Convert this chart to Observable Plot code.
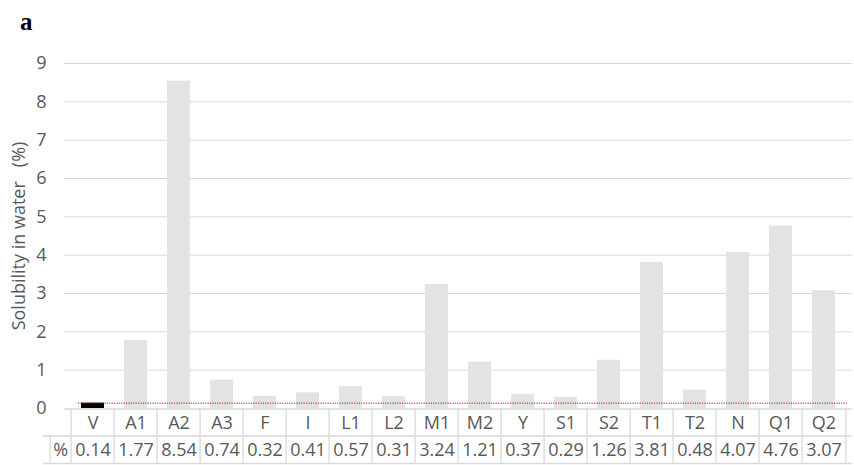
<!DOCTYPE html>
<html>
<head>
<meta charset="utf-8">
<script src="https://cdn.jsdelivr.net/npm/d3@7"></script>
<script src="https://cdn.jsdelivr.net/npm/@observablehq/plot@0.6"></script>
<style>
  html, body { margin: 0; padding: 0; background: #fff; }
  #wrap { position: relative; width: 854px; height: 465px; }
  #panel { position: absolute; left: 20px; top: 8px; font: bold 25px "Liberation Serif", "Times New Roman", serif; color: #000; }
</style>
</head>
<body>
<div id="wrap">
  <div id="panel">a</div>
</div>
<script>
// Samples and their solubility in water (%)
const categories = ["V", "A1", "A2", "A3", "F", "I", "L1", "L2", "M1", "M2", "Y", "S1", "S2", "T1", "T2", "N", "Q1", "Q2"];
const solubility = [0.14, 1.77, 8.54, 0.74, 0.32, 0.41, 0.57, 0.31, 3.24, 1.21, 0.37, 0.29, 1.26, 3.81, 0.48, 4.07, 4.76, 3.07];
const yTicks = [0, 1, 2, 3, 4, 5, 6, 7, 8, 9];
const reference = "V";
const rowLabel = "%";

const data = categories.map((cat, i) => ({cat, value: solubility[i]}));
const refValue = solubility[categories.indexOf(reference)];

const W = 854, H = 465;
const mL = 64, mR = 2, mT = 63, mB = 57;
const step = (W - mL - mR) / categories.length;
const rowH = 27.5;
const lineColor = "#d9d9d9";
const textColor = "#595959";
const fs = 18;

const plot = Plot.plot({
  width: W,
  height: H,
  marginLeft: mL,
  marginRight: mR,
  marginTop: mT,
  marginBottom: mB,
  style: {fontFamily: "'Open Sans', sans-serif", fontSize: fs + "px", color: textColor, background: "#fff"},
  x: {type: "band", domain: categories, paddingInner: 0.47, paddingOuter: 0.235, axis: null},
  y: {domain: [0, 9]},
  marks: [
    // gridlines
    Plot.ruleY(yTicks.slice(1), {stroke: lineColor}),
    Plot.axisY(yTicks, {
      tickSize: 0, tickPadding: 18, fontSize: fs,
      label: "Solubility in water\u00a0\u00a0 (%)", labelAnchor: "center", labelOffset: 52, labelArrow: "none"
    }),
    // bars
    Plot.barY(data, {x: "cat", y: "value", fill: d => d.cat === reference ? "#000" : "#e3e3e3"}),
    // reference level
    Plot.ruleY([refValue], {stroke: "#e00000", strokeWidth: 1, strokeDasharray: "1.2,1.2", insetLeft: 14, insetRight: 5}),
    // data table: horizontal borders
    Plot.ruleY([0], {stroke: lineColor, strokeWidth: 1.5, dy: 0.5}),
    Plot.ruleY([0], {stroke: lineColor, strokeWidth: 1.3, dy: rowH, insetLeft: -21}),
    Plot.ruleY([0], {stroke: lineColor, strokeWidth: 1.3, dy: 2 * rowH, insetLeft: -21}),
    // data table: vertical borders
    Plot.ruleX(categories, {x: d => d, y1: 0, y2: 0, dx: -step / 2, insetBottom: -2 * rowH, stroke: lineColor, strokeWidth: 1.3}),
    Plot.ruleX([categories[categories.length - 1]], {x: d => d, y1: 0, y2: 0, dx: step / 2, insetBottom: -2 * rowH, stroke: lineColor, strokeWidth: 1.3}),
    Plot.ruleX([categories[0]], {x: d => d, y1: 0, y2: 0, dx: -step / 2 - 21, insetTop: rowH, insetBottom: -2 * rowH, stroke: lineColor, strokeWidth: 1.3}),
    // data table: text
    Plot.text(categories, {x: d => d, text: d => d, frameAnchor: "bottom", dy: 15, lineAnchor: "middle", fontSize: fs}),
    Plot.text(data, {x: "cat", text: d => d.value.toFixed(2), frameAnchor: "bottom", dy: 42, lineAnchor: "middle", fontSize: fs}),
    Plot.text([rowLabel], {x: () => categories[0], text: d => d, frameAnchor: "bottom", dx: -step / 2 - 10.5, dy: 42, lineAnchor: "middle", fontSize: fs})
  ]
});

document.getElementById("wrap").appendChild(plot);
</script>
</body>
</html>
